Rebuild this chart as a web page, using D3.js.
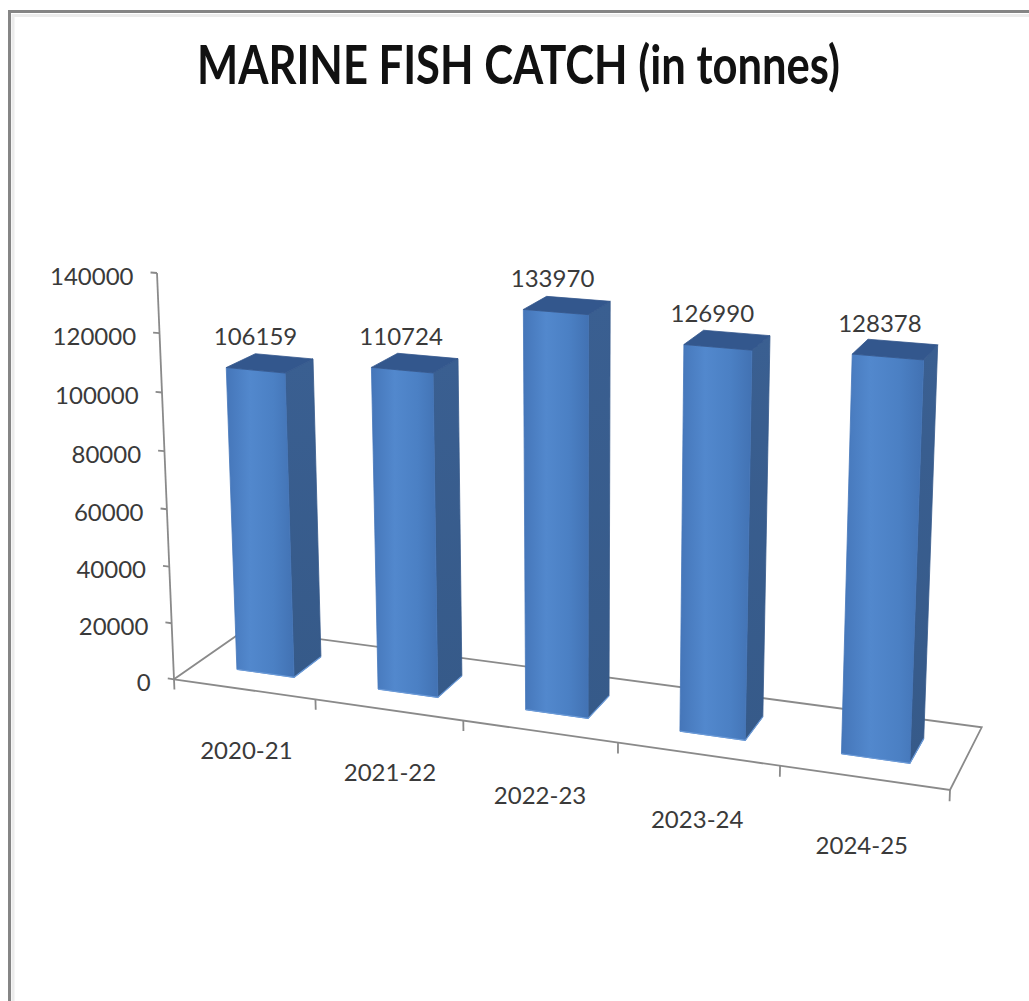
<!DOCTYPE html>
<html>
<head>
<meta charset="utf-8">
<script src="https://cdn.jsdelivr.net/npm/d3@7"></script>
<style>
  html, body { margin: 0; padding: 0; background: #ffffff; }
  svg { display: block; }
</style>
</head>
<body>
<script>
// ---------------- data ----------------
const title = "MARINE FISH CATCH (in tonnes)";
const categories = ["2020-21", "2021-22", "2022-23", "2023-24", "2024-25"];
const values = [106159, 110724, 133970, 126990, 128378];
const yTickValues = [0, 20000, 40000, 60000, 80000, 100000, 120000, 140000];
const yMax = 140000;

// ---------------- layout ----------------
const W = 1029, H = 1001;
// screen corners of the chart floor (perspective quad)
const floor = { fl: [174, 679.3], fr: [950, 790], br: [981.7, 727.3], bl: [245.8, 629.2] };
const axisTop = [157, 273];      // screen position of value axis top (yMax)
const vpVerticalY = 10400;       // vanishing point of verticals (below)
const barGap = 0.59;             // gap between bars as fraction of category
const barDepth = [0.3, 0.7];     // bar depth extent on floor (front, back)

const svg = d3.select("body").append("svg").attr("width", W).attr("height", H);
svg.append("rect").attr("width", W).attr("height", H).attr("fill", "#ffffff");

// ---- projective camera built from the floor quad + vertical vanishing point ----
function squareToQuad(p0, p1, p2, p3) {
  const [x0, y0] = p0, [x1, y1] = p1, [x2, y2] = p2, [x3, y3] = p3;
  const dx1 = x1 - x2, dx2 = x3 - x2, dx3 = x0 - x1 + x2 - x3;
  const dy1 = y1 - y2, dy2 = y3 - y2, dy3 = y0 - y1 + y2 - y3;
  const den = dx1 * dy2 - dx2 * dy1;
  const g = (dx3 * dy2 - dx2 * dy3) / den;
  const h = (dx1 * dy3 - dx3 * dy1) / den;
  return {
    a: x1 - x0 + g * x1, b: x3 - x0 + h * x3, c: x0,
    d: y1 - y0 + g * y1, e: y3 - y0 + h * y3, f: y0,
    g: g, h: h
  };
}
const Hm = squareToQuad(floor.fl, floor.fr, floor.br, floor.bl);
const O = floor.fl;
const vpX = O[0] + (axisTop[0] - O[0]) * (vpVerticalY - O[1]) / (axisTop[1] - O[1]);
const cPrime = (axisTop[1] - O[1]) / (vpVerticalY - axisTop[1]);
const colY = [cPrime * vpX, cPrime * vpVerticalY, cPrime];

// u: floor fraction along categories, yn: normalised value, v: floor depth fraction
function proj(u, yn, v) {
  const X = Hm.a * u + Hm.b * v + Hm.c + yn * colY[0];
  const Y = Hm.d * u + Hm.e * v + Hm.f + yn * colY[1];
  const Wh = Hm.g * u + Hm.h * v + 1 + yn * colY[2];
  return [X / Wh, Y / Wh];
}

// ---- scales ----
const xBand = d3.scaleBand().domain(categories).range([0, 1])
  .paddingInner(barGap).paddingOuter(barGap / 2);
const xCat = d3.scaleBand().domain(categories).range([0, 1]);
const yScale = d3.scaleLinear().domain([0, yMax]).range([0, 1]);

const line = d3.line();
const polygon = pts => "M" + pts.map(p => p.join(",")).join("L") + "Z";

// ---- frame border ----
svg.append("path").attr("d", `M13,${H} V15.5 H${W}`)
  .attr("fill", "none").attr("stroke", "#ececec").attr("stroke-width", 3);
svg.append("path").attr("d", `M9.5,${H} V11.5 H${W}`)
  .attr("fill", "none").attr("stroke", "#858585").attr("stroke-width", 3);

// ---- title ----
svg.append("text")
  .attr("x", 518.5).attr("y", 84)
  .attr("text-anchor", "middle")
  .attr("font-family", "Lato, 'Open Sans', sans-serif")
  .attr("font-weight", "bold")
  .attr("font-size", 54)
  .attr("textLength", 643)
  .attr("lengthAdjust", "spacingAndGlyphs")
  .attr("fill", "#111111")
  .text(title);

// ---- gradients ----
const defs = svg.append("defs");
const gFront = defs.append("linearGradient").attr("id", "gFront")
  .attr("x1", "0").attr("x2", "1").attr("y1", "0").attr("y2", "0");
[[0, "#4576b9"], [0.35, "#5288cd"], [0.7, "#4b80c4"], [1, "#4272b3"]].forEach(s =>
  gFront.append("stop").attr("offset", s[0]).attr("stop-color", s[1]));
const gSide = defs.append("linearGradient").attr("id", "gSide")
  .attr("x1", "0").attr("x2", "0").attr("y1", "0").attr("y2", "1");
[[0, "#3a5f91"], [1, "#365a89"]].forEach(s =>
  gSide.append("stop").attr("offset", s[0]).attr("stop-color", s[1]));

// ---- floor ----
const axisColor = "#8a8a8a";
const gFloor = svg.append("g").attr("fill", "none").attr("stroke", axisColor).attr("stroke-width", 1.8);
gFloor.append("path").attr("d", polygon([proj(0, 0, 0), proj(1, 0, 0), proj(1, 0, 1), proj(0, 0, 1)]));

// category ticks (downward)
const catBounds = d3.range(categories.length + 1).map(k => k / categories.length);
catBounds.forEach(u => {
  gFloor.append("path").attr("d", line([proj(u, 0, 0), proj(u, -0.026, 0)]));
});

// value axis
gFloor.append("path").attr("d", line([proj(0, 0, 0), proj(0, 1, 0)]));
yTickValues.forEach(t => {
  const yn = yScale(t);
  const a = proj(0, yn, 0), b = proj(-0.009, yn, 0);
  gFloor.append("path").attr("d", line([a, b]));
  svg.append("text")
    .attr("x", b[0] - 17).attr("y", b[1] + 12.5)
    .attr("text-anchor", "end")
    .attr("font-family", "Lato, 'Open Sans', sans-serif")
    .attr("font-size", 24)
    .attr("fill", "#3a3a3a")
    .text(d3.format("d")(t));
});

// ---- bars ----
const gBars = svg.append("g");
categories.forEach((c, i) => {
  const u0 = xBand(c), u1 = u0 + xBand.bandwidth();
  const [v0, v1] = barDepth;
  const yn = yScale(values[i]);
  const front = [proj(u0, 0, v0), proj(u1, 0, v0), proj(u1, yn, v0), proj(u0, yn, v0)];
  const side = [proj(u1, 0, v0), proj(u1, 0, v1), proj(u1, yn, v1), proj(u1, yn, v0)];
  const top = [proj(u0, yn, v0), proj(u1, yn, v0), proj(u1, yn, v1), proj(u0, yn, v1)];
  const g = gBars.append("g");
  g.append("path").attr("d", polygon(side)).attr("fill", "url(#gSide)")
    .attr("stroke", "#375b8b").attr("stroke-width", 0.8);
  g.append("path").attr("d", polygon(front)).attr("fill", "url(#gFront)")
    .attr("stroke", "#4677ba").attr("stroke-width", 0.8);
  g.append("path").attr("d", polygon(top)).attr("fill", "#33578d")
    .attr("stroke", "#33578d").attr("stroke-width", 0.8);
  // bottom light rim
  g.append("path").attr("d", line([front[0], front[1], side[1]]))
    .attr("fill", "none").attr("stroke", "#6a9ad8").attr("stroke-width", 1.2);

  // value label
  const uc = (u0 + u1) / 2;
  const p = proj(uc, yn, v0);
  svg.append("text")
    .attr("x", p[0] - 0.014 * Math.max(0, p[0] - 330)).attr("y", p[1] - 25)
    .attr("text-anchor", "middle")
    .attr("font-family", "Lato, 'Open Sans', sans-serif")
    .attr("font-size", 24)
    .attr("fill", "#3a3a3a")
    .text(values[i]);
});

// ---- category labels ----
categories.forEach(c => {
  const uc = xCat(c) + xCat.bandwidth() / 2;
  const p = proj(uc, yScale(-25000), 0);
  svg.append("text")
    .attr("x", p[0]).attr("y", p[1])
    .attr("text-anchor", "middle")
    .attr("font-family", "Lato, 'Open Sans', sans-serif")
    .attr("font-size", 24)
    .attr("fill", "#3a3a3a")
    .text(c);
});
</script>
</body>
</html>
